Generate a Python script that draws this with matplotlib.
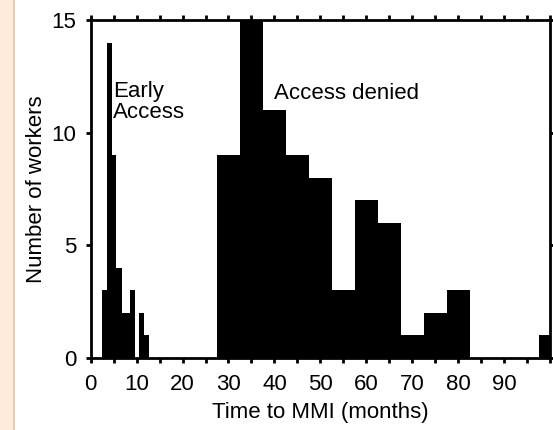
import numpy as np
import matplotlib
matplotlib.use('Agg')
import matplotlib.pyplot as plt
from matplotlib.patches import Rectangle

# early access group: uneven bin edges (months)
early_edges = [2.4, 3.5, 4.6, 5.6, 6.75, 8.55, 9.65, 10.5, 11.6, 12.7]
early_counts = [3, 14, 9, 4, 2, 3, 0, 2, 1]

# access denied group: 5-month bins
denied_edges = [27.5, 32.5, 37.5, 42.5, 47.5, 52.5, 57.5, 62.5, 67.5, 72.5,
                77.5, 82.5, 87.5, 92.5, 97.5, 102.5]
denied_counts = [9, 15, 11, 9, 8, 3, 7, 6, 1, 2, 3, 0, 0, 0, 1]

x_ticks = list(range(0, 101, 5))
x_labels = [str(t) if (t % 10 == 0 and t < 100) else '' for t in x_ticks]
y_ticks = [0, 5, 10, 15]

plt.rcParams['font.family'] = ['Liberation Sans', 'DejaVu Sans']

fig = plt.figure(figsize=(5.53, 4.30), dpi=100)
fig.patch.set_facecolor('white')

# peach strip on the left edge of the slide
fig.patches.append(Rectangle((0, 0), 13 / 553, 1, transform=fig.transFigure,
                             facecolor='#fdebdc', edgecolor='none', zorder=0))
fig.patches.append(Rectangle((13 / 553, 0), 1.5 / 553, 1, transform=fig.transFigure,
                             facecolor='#eccab6', edgecolor='none', zorder=0))

ax = fig.add_axes([0.164, 0.1675, 0.8306, 0.7855])

ax.bar(early_edges[:-1], early_counts, width=np.diff(early_edges), align='edge',
       color='black', edgecolor='none', linewidth=0)
ax.bar(denied_edges[:-1], denied_counts, width=np.diff(denied_edges), align='edge',
       color='black', edgecolor='none', linewidth=0)

ax.set_xlim(0, 100)
ax.set_ylim(0, 15)
ax.set_xticks(x_ticks)
ax.set_xticklabels(x_labels)
ax.set_yticks(y_ticks)

for s in ax.spines.values():
    s.set_linewidth(2)
ax.tick_params(axis='both', which='both', direction='out', length=3.5, width=2,
               labelsize=16, top=True, right=True)
ax.tick_params(axis='x', pad=8)
ax.tick_params(axis='y', pad=7)

ax.set_xlabel('Time to MMI (months)', fontsize=16, labelpad=5)
ax.set_ylabel('Number of workers', fontsize=16, labelpad=3)

ax.text(4.8, 11.35, 'Early\nAccess', fontsize=16, ha='left', va='center',
        linespacing=1.0)
ax.text(39.8, 11.75, 'Access denied', fontsize=16, ha='left', va='center')

fig.savefig('out.png', dpi=100)
